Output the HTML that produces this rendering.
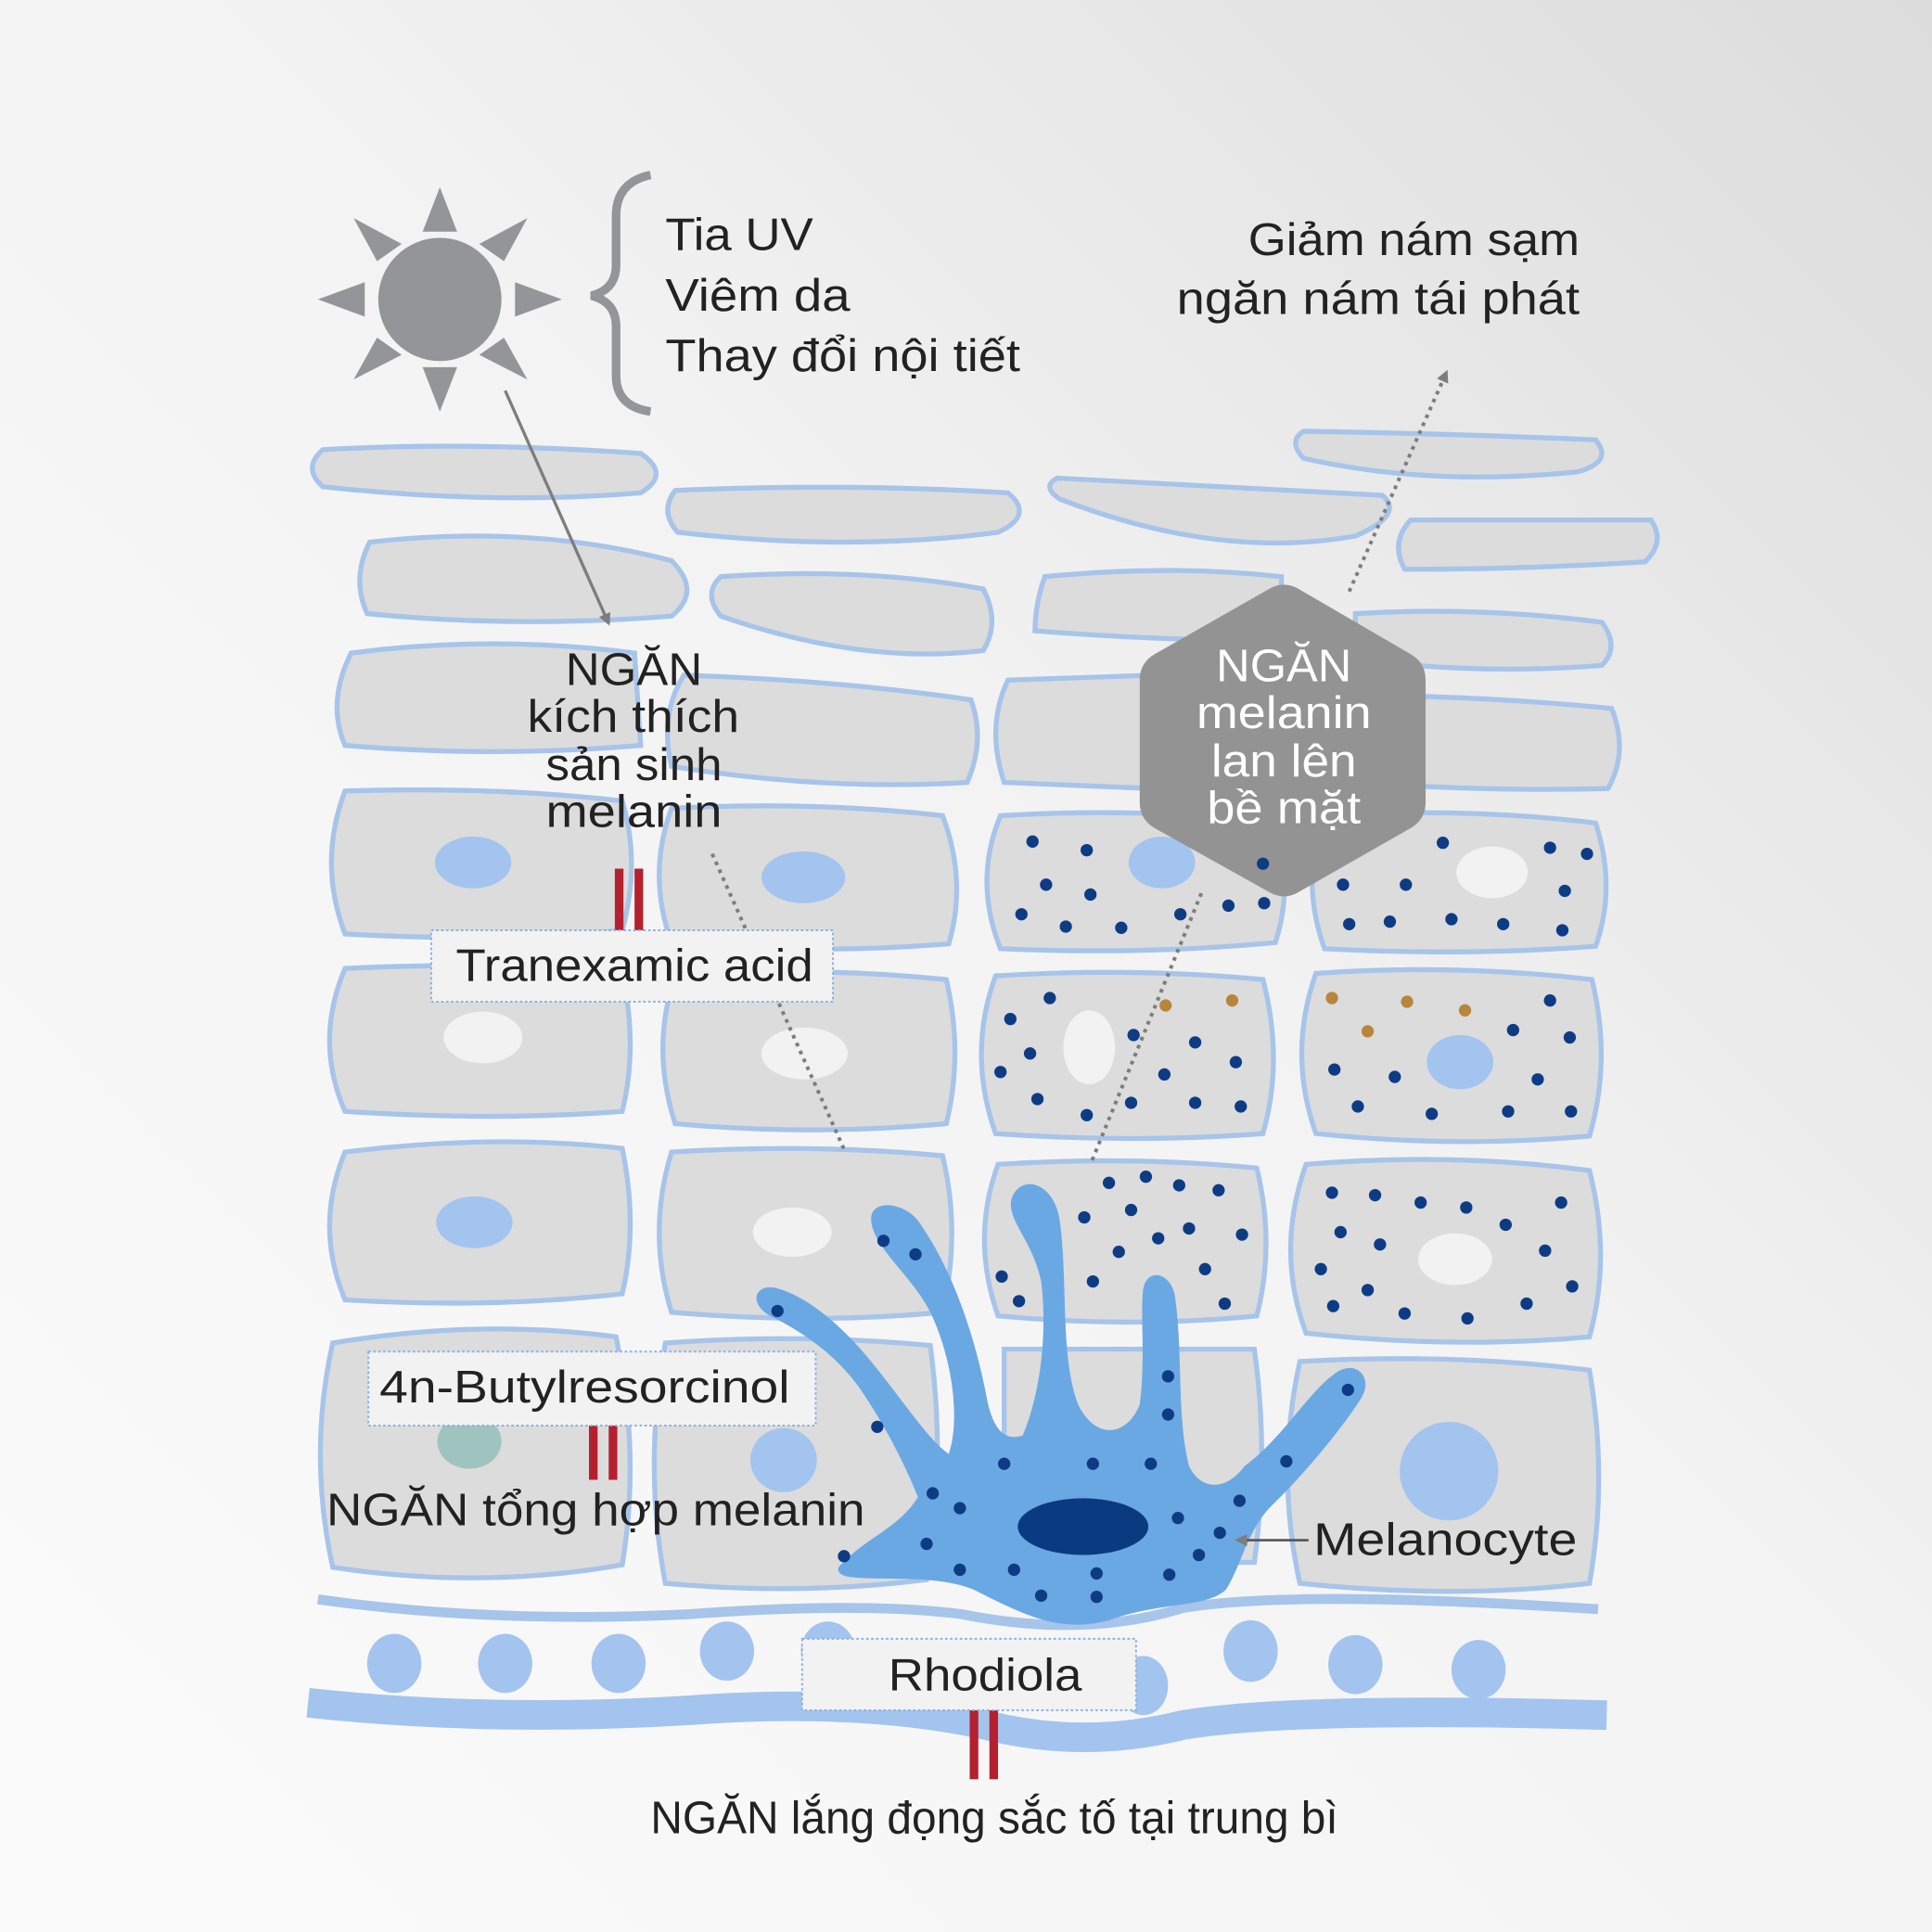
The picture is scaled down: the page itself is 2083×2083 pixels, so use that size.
<!DOCTYPE html>
<html><head><meta charset="utf-8"><style>
html,body{margin:0;padding:0;width:2083px;height:2083px;overflow:hidden}
svg{display:block}
text{font-family:"Liberation Sans","DejaVu Sans",sans-serif;}
</style></head><body>
<svg width="2083" height="2083" viewBox="0 0 1568 1568" xmlns="http://www.w3.org/2000/svg">
<defs>
<linearGradient id="bg" x1="0" y1="1" x2="1" y2="0">
<stop offset="0" stop-color="#fbfbfb"/><stop offset="0.55" stop-color="#f3f3f3"/><stop offset="1" stop-color="#dcdcdc"/>
</linearGradient>
<marker id="ah" markerWidth="10" markerHeight="10" refX="8" refY="5" orient="auto" markerUnits="userSpaceOnUse"><path d="M0,0 L10,5 L0,10 Z" fill="#7d7d7d"/></marker>
</defs>
<rect width="1568" height="1568" fill="url(#bg)"/>

<g fill="#dcdcdc" stroke="#a7c4ea" stroke-width="4">
<path d="M262,365 Q380,358 520,368 Q545,385 520,400 Q400,410 262,395 Q245,380 262,365Z"/>
<path d="M548,398 Q690,392 818,400 Q840,418 810,432 Q690,448 550,432 Q535,415 548,398Z"/>
<path d="M858,388 Q1000,395 1122,402 Q1140,418 1100,435 Q990,455 860,405 Q845,395 858,388Z"/>
<path d="M1058,350 Q1180,352 1295,357 Q1310,375 1280,383 Q1160,395 1058,372 Q1045,358 1058,350Z"/>
<path d="M1145,422 L1340,422 Q1352,440 1335,456 Q1240,462 1140,462 Q1128,440 1145,422Z"/>
<path d="M300,440 Q430,425 545,455 Q570,480 545,500 Q420,510 298,498 Q285,470 300,440Z"/>
<path d="M585,468 Q700,460 798,478 Q812,505 798,528 Q700,540 585,500 Q570,482 585,468Z"/>
<path d="M848,468 Q950,458 1040,468 L1040,520 Q940,520 840,512 Q840,490 848,468Z"/>
<path d="M1100,498 Q1200,492 1300,505 Q1315,525 1300,540 Q1200,548 1100,535Z"/>
<path d="M285,530 Q400,515 515,530 L520,605 Q400,615 280,605 Q265,570 285,530Z"/>
<path d="M555,548 Q680,552 788,568 Q800,600 785,635 Q670,642 545,622 Q535,580 555,548Z"/>
<path d="M818,552 L935,548 L935,640 L815,635 Q800,590 818,552Z"/>
<path d="M1150,565 Q1240,568 1308,575 Q1322,610 1305,640 Q1230,642 1150,638Z"/>
<path d="M280,642 Q400,638 505,650 Q520,700 505,755 Q400,765 280,758 Q258,700 280,642Z"/>
<path d="M545,656 Q660,650 765,662 Q785,715 770,766 Q660,775 545,765 Q525,710 545,656Z"/>
<path d="M812,662 Q930,655 1035,668 Q1050,720 1035,765 Q930,775 812,770 Q790,715 812,662Z"/>
<path d="M1075,662 Q1190,655 1295,668 Q1312,720 1295,768 Q1190,776 1075,770 Q1055,715 1075,662Z"/>
<path d="M280,786 Q400,780 505,790 Q518,850 505,902 Q400,910 280,902 Q255,845 280,786Z"/>
<path d="M548,792 Q660,784 768,795 Q782,855 768,912 Q660,922 548,912 Q528,850 548,792Z"/>
<path d="M808,792 Q920,785 1025,795 Q1042,860 1025,920 Q920,928 808,920 Q785,855 808,792Z"/>
<path d="M1068,790 Q1180,782 1292,795 Q1308,860 1290,922 Q1180,932 1068,920 Q1045,855 1068,790Z"/>
<path d="M280,935 Q400,920 505,932 Q518,995 505,1050 Q400,1062 280,1055 Q255,995 280,935Z"/>
<path d="M545,935 Q660,928 765,938 Q780,1000 765,1065 Q660,1075 545,1065 Q525,1000 545,935Z"/>
<path d="M810,945 Q920,938 1020,948 Q1035,1010 1020,1068 Q920,1078 810,1068 Q788,1005 810,945Z"/>
<path d="M1060,945 Q1180,935 1290,950 Q1308,1020 1290,1085 Q1180,1095 1060,1082 Q1035,1015 1060,945Z"/>
<path d="M270,1090 Q390,1070 500,1085 Q520,1180 505,1270 Q390,1290 270,1272 Q250,1180 270,1090Z"/>
<path d="M540,1090 Q650,1082 755,1092 Q768,1190 752,1282 Q650,1295 540,1285 Q522,1190 540,1090Z"/>
<path d="M815,1095 L1018,1095 Q1030,1180 1018,1268 L815,1268Z"/>
<path d="M1055,1105 Q1180,1098 1290,1112 Q1305,1200 1290,1285 Q1180,1298 1055,1285 Q1035,1195 1055,1105Z"/>
</g>

<g>
<ellipse cx="384" cy="700" rx="31" ry="21" fill="#a3c4ee"/>
<ellipse cx="652" cy="712" rx="34" ry="21" fill="#a3c4ee"/>
<ellipse cx="943" cy="700" rx="27" ry="21" fill="#a3c4ee"/>
<ellipse cx="1211" cy="708" rx="29" ry="21" fill="#f2f2f2"/>
<ellipse cx="392" cy="842" rx="32" ry="21" fill="#f2f2f2"/>
<ellipse cx="653" cy="855" rx="35" ry="21" fill="#f2f2f2"/>
<ellipse cx="884" cy="850" rx="21" ry="30" fill="#f2f2f2"/>
<ellipse cx="1185" cy="862" rx="27" ry="22" fill="#a3c4ee"/>
<ellipse cx="385" cy="992" rx="31" ry="21" fill="#a3c4ee"/>
<ellipse cx="643" cy="1000" rx="32" ry="20" fill="#f2f2f2"/>
<ellipse cx="1181" cy="1022" rx="30" ry="21" fill="#f2f2f2"/>
<ellipse cx="381" cy="1170" rx="26" ry="22" fill="#9fc3bf"/>
<ellipse cx="636" cy="1185" rx="27" ry="26" fill="#a3c4ee"/>
<circle cx="1176" cy="1194" r="40" fill="#a3c4ee"/>
</g>

<g fill="#0d3c85">
<circle cx="838" cy="683" r="5"/><circle cx="882" cy="690" r="5"/><circle cx="849" cy="718" r="5"/><circle cx="885" cy="726" r="5"/><circle cx="829" cy="742" r="5"/><circle cx="865" cy="752" r="5"/><circle cx="910" cy="753" r="5"/><circle cx="958" cy="742" r="5"/><circle cx="997" cy="735" r="5"/><circle cx="1025" cy="701" r="5"/><circle cx="1026" cy="733" r="5"/>
<circle cx="1171" cy="684" r="5"/><circle cx="1258" cy="688" r="5"/><circle cx="1288" cy="693" r="5"/><circle cx="1090" cy="718" r="5"/><circle cx="1141" cy="718" r="5"/><circle cx="1270" cy="723" r="5"/><circle cx="1095" cy="750" r="5"/><circle cx="1128" cy="748" r="5"/><circle cx="1178" cy="746" r="5"/><circle cx="1220" cy="750" r="5"/><circle cx="1268" cy="755" r="5"/>
<circle cx="852" cy="810" r="5"/><circle cx="820" cy="827" r="5"/><circle cx="836" cy="855" r="5"/><circle cx="812" cy="870" r="5"/><circle cx="842" cy="892" r="5"/><circle cx="882" cy="905" r="5"/><circle cx="920" cy="840" r="5"/><circle cx="970" cy="846" r="5"/><circle cx="1003" cy="862" r="5"/><circle cx="945" cy="872" r="5"/><circle cx="918" cy="895" r="5"/><circle cx="970" cy="895" r="5"/><circle cx="1007" cy="898" r="5"/>
<circle cx="1258" cy="812" r="5"/><circle cx="1228" cy="836" r="5"/><circle cx="1274" cy="842" r="5"/><circle cx="1083" cy="868" r="5"/><circle cx="1132" cy="874" r="5"/><circle cx="1248" cy="876" r="5"/><circle cx="1102" cy="898" r="5"/><circle cx="1162" cy="904" r="5"/><circle cx="1224" cy="902" r="5"/><circle cx="1275" cy="902" r="5"/>
<circle cx="900" cy="960" r="5"/><circle cx="930" cy="955" r="5"/><circle cx="957" cy="962" r="5"/><circle cx="989" cy="966" r="5"/><circle cx="828" cy="972" r="5"/><circle cx="918" cy="982" r="5"/><circle cx="880" cy="988" r="5"/><circle cx="965" cy="997" r="5"/><circle cx="940" cy="1005" r="5"/><circle cx="1008" cy="1002" r="5"/><circle cx="908" cy="1016" r="5"/><circle cx="978" cy="1030" r="5"/><circle cx="813" cy="1036" r="5"/><circle cx="887" cy="1040" r="5"/><circle cx="827" cy="1056" r="5"/><circle cx="994" cy="1058" r="5"/>
<circle cx="1081" cy="968" r="5"/><circle cx="1116" cy="970" r="5"/><circle cx="1153" cy="976" r="5"/><circle cx="1190" cy="980" r="5"/><circle cx="1267" cy="976" r="5"/><circle cx="1222" cy="994" r="5"/><circle cx="1088" cy="1000" r="5"/><circle cx="1120" cy="1010" r="5"/><circle cx="1254" cy="1015" r="5"/><circle cx="1072" cy="1030" r="5"/><circle cx="1110" cy="1047" r="5"/><circle cx="1276" cy="1044" r="5"/><circle cx="1082" cy="1060" r="5"/><circle cx="1140" cy="1066" r="5"/><circle cx="1191" cy="1070" r="5"/><circle cx="1239" cy="1058" r="5"/>
</g>
<g fill="#b8863b">
<circle cx="946" cy="816" r="5"/><circle cx="1000" cy="812" r="5"/><circle cx="1081" cy="810" r="5"/><circle cx="1142" cy="813" r="5"/><circle cx="1189" cy="820" r="5"/><circle cx="1110" cy="837" r="5"/>
</g>

<path d="M258,1298 Q400,1318 560,1310 Q700,1300 780,1310 Q880,1330 960,1305 Q1050,1290 1297,1306" fill="none" stroke="#a7c4ea" stroke-width="8"/>
<g fill="#a3c4ee">
<ellipse cx="320" cy="1350" rx="22" ry="24"/><ellipse cx="410" cy="1350" rx="22" ry="24"/><ellipse cx="502" cy="1350" rx="22" ry="24"/><ellipse cx="590" cy="1340" rx="22" ry="24"/><ellipse cx="672" cy="1340" rx="22" ry="24"/><ellipse cx="928" cy="1368" rx="20" ry="24"/><ellipse cx="1015" cy="1340" rx="22" ry="25"/><ellipse cx="1100" cy="1351" rx="22" ry="24"/><ellipse cx="1200" cy="1355" rx="22" ry="24"/>
</g>
<path d="M250,1382 Q400,1398 560,1388 Q700,1378 800,1400 Q880,1420 960,1400 Q1050,1385 1304,1392" fill="none" stroke="#a3c4ee" stroke-width="24"/>

<path d="M685,1268 C700,1250 730,1240 745,1215 C735,1190 720,1160 700,1130 C680,1100 650,1080 625,1068 C605,1056 615,1040 632,1046 C662,1055 692,1085 715,1115 C735,1140 755,1170 770,1180 C780,1150 772,1100 755,1065 C740,1035 708,1012 707,990 C706,972 737,975 748,995 C772,1030 790,1080 800,1130 C805,1160 815,1170 830,1165 C845,1130 850,1080 845,1040 C838,1005 814,988 822,970 C832,952 856,962 860,990 C867,1040 860,1100 875,1140 C890,1170 915,1165 925,1140 C930,1100 925,1065 928,1045 C932,1028 952,1033 954,1055 C960,1100 955,1150 965,1190 C975,1210 995,1210 1010,1190 C1040,1168 1062,1130 1083,1115 C1100,1102 1116,1118 1104,1136 C1085,1165 1055,1200 1032,1222 C1012,1242 1007,1272 995,1290 C980,1305 940,1300 900,1315 C860,1326 830,1310 790,1290 C760,1278 720,1283 690,1280 C678,1278 678,1272 685,1268Z" fill="#6aa8e4"/>
<ellipse cx="879" cy="1239" rx="53" ry="23" fill="#0a3a80"/>
<g fill="#0d3c85">
<circle cx="717" cy="1007" r="5"/><circle cx="743" cy="1018" r="5"/><circle cx="631" cy="1064" r="5"/><circle cx="712" cy="1158" r="5"/><circle cx="815" cy="1188" r="5"/><circle cx="887" cy="1188" r="5"/><circle cx="934" cy="1188" r="5"/><circle cx="948" cy="1117" r="5"/><circle cx="948" cy="1148" r="5"/><circle cx="1094" cy="1128" r="5"/><circle cx="1044" cy="1186" r="5"/><circle cx="757" cy="1212" r="5"/><circle cx="779" cy="1224" r="5"/><circle cx="1006" cy="1218" r="5"/><circle cx="956" cy="1232" r="5"/><circle cx="990" cy="1244" r="5"/><circle cx="752" cy="1253" r="5"/><circle cx="685" cy="1263" r="5"/><circle cx="779" cy="1274" r="5"/><circle cx="823" cy="1274" r="5"/><circle cx="890" cy="1277" r="5"/><circle cx="949" cy="1278" r="5"/><circle cx="973" cy="1262" r="5"/><circle cx="845" cy="1295" r="5"/><circle cx="890" cy="1296" r="5"/>
</g>

<path d="M1030,478 Q1042,471 1054,478 L1145,531 Q1157,538 1157,552 L1157,651 Q1157,665 1145,672 L1054,724 Q1042,731 1030,724 L937,672 Q925,665 925,651 L925,552 Q925,538 937,531Z" fill="#939393"/>
<circle cx="1025" cy="701" r="5" fill="#0d3c85"/>
<g fill="#ffffff" font-size="37" text-anchor="middle" lengthAdjust="spacingAndGlyphs">
<text x="1042" y="553" textLength="110" lengthAdjust="spacingAndGlyphs">NGĂN</text>
<text x="1042" y="591" textLength="142" lengthAdjust="spacingAndGlyphs">melanin</text>
<text x="1042" y="630" textLength="118" lengthAdjust="spacingAndGlyphs">lan lên</text>
<text x="1042" y="668" textLength="125" lengthAdjust="spacingAndGlyphs">bề mặt</text>
</g>

<g fill="#939598">
<circle cx="357" cy="243" r="50"/>
<path d="M357,152 L343,188 L371,188Z"/><path d="M357,334 L343,298 L371,298Z"/>
<path d="M258,243 L296,229 L296,257Z"/><path d="M456,243 L418,229 L418,257Z"/>
<path d="M287,177 L326,198 L306,212Z"/><path d="M428,177 L389,198 L409,212Z"/>
<path d="M287,308 L306,274 L326,288Z"/><path d="M428,308 L409,274 L389,288Z"/>
</g>
<path d="M528,142 Q500,148 500,175 L500,215 Q500,235 480,240 Q500,245 500,265 L500,305 Q500,330 528,334" fill="none" stroke="#939598" stroke-width="7"/>

<line x1="410" y1="317" x2="494" y2="506" stroke="#7d7d7d" stroke-width="2.5" marker-end="url(#ah)"/>
<line x1="578" y1="693" x2="686" y2="935" stroke="#7d7d7d" stroke-width="3" stroke-dasharray="3,4"/>
<line x1="975" y1="725" x2="885" y2="945" stroke="#7d7d7d" stroke-width="3" stroke-dasharray="3,4"/>
<line x1="1095" y1="480" x2="1174" y2="302" stroke="#7d7d7d" stroke-width="3" stroke-dasharray="3,4" marker-end="url(#ah)"/>
<line x1="1062" y1="1250" x2="1004" y2="1250" stroke="#555" stroke-width="2" marker-end="url(#ah)"/>

<g fill="#b5202e">
<rect x="499" y="705" width="7" height="56"/><rect x="515" y="705" width="7" height="56"/>
<rect x="478" y="1145" width="7" height="56"/><rect x="494" y="1145" width="7" height="56"/>
<rect x="787" y="1388" width="7" height="56"/><rect x="803" y="1388" width="7" height="56"/>
</g>

<g fill="#f2f2f2" stroke="#8fb0e0" stroke-width="1.5" stroke-dasharray="2,2">
<rect x="350" y="755" width="326" height="58"/>
<rect x="299" y="1097" width="363" height="60"/>
<rect x="651" y="1330" width="271" height="58"/>
</g>

<g fill="#222" font-size="37">
<text x="540" y="203" textLength="120" lengthAdjust="spacingAndGlyphs">Tia UV</text>
<text x="540" y="252" textLength="150" lengthAdjust="spacingAndGlyphs">Viêm da</text>
<text x="540" y="301" textLength="288" lengthAdjust="spacingAndGlyphs">Thay đổi nội tiết</text>
<text x="1013" y="207" textLength="269" lengthAdjust="spacingAndGlyphs">Giảm nám sạm</text>
<text x="955" y="255" textLength="327" lengthAdjust="spacingAndGlyphs">ngăn nám tái phát</text>
<text x="459" y="556" textLength="111" lengthAdjust="spacingAndGlyphs">NGĂN</text>
<text x="428" y="594" textLength="172" lengthAdjust="spacingAndGlyphs">kích thích</text>
<text x="443" y="633" textLength="143" lengthAdjust="spacingAndGlyphs">sản sinh</text>
<text x="443" y="671" textLength="143" lengthAdjust="spacingAndGlyphs">melanin</text>
<text x="370" y="796" textLength="290" lengthAdjust="spacingAndGlyphs">Tranexamic acid</text>
<text x="308" y="1138" textLength="333" lengthAdjust="spacingAndGlyphs">4n-Butylresorcinol</text>
<text x="721" y="1372" textLength="157" lengthAdjust="spacingAndGlyphs">Rhodiola</text>
<text x="528" y="1488" textLength="558" lengthAdjust="spacingAndGlyphs">NGĂN lắng đọng sắc tố tại trung bì</text>
<text x="265" y="1238" textLength="437" lengthAdjust="spacingAndGlyphs">NGĂN tổng hợp melanin</text>
<text x="1066" y="1262" textLength="214" lengthAdjust="spacingAndGlyphs">Melanocyte</text>
</g>
</svg>
</body></html>
